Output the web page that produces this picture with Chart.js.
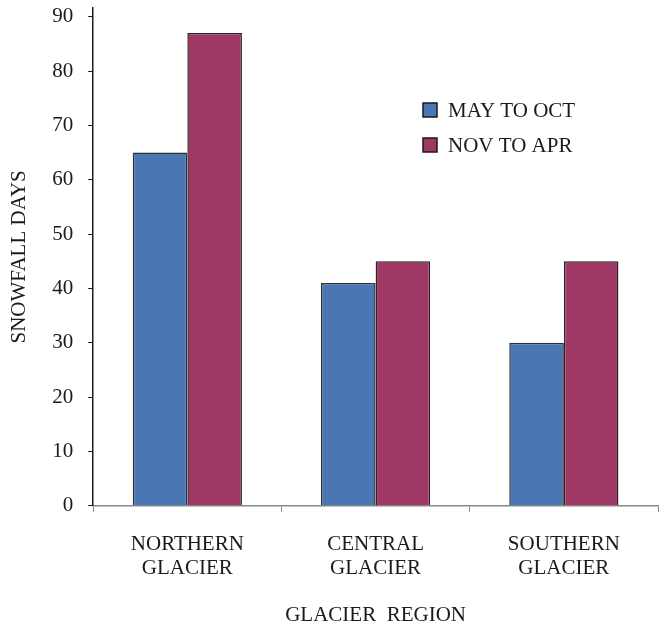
<!DOCTYPE html>
<html>
<head>
<meta charset="utf-8">
<script src="https://cdn.jsdelivr.net/npm/chart.js@4/dist/chart.umd.min.js"></script>
<style>
    body { margin: 0; background: #fff; }
    canvas { display: block; }
</style>
</head>
<body>
<canvas id="snowChart" width="664" height="628"></canvas>
<script>
// chart data
const regions = [['NORTHERN', 'GLACIER'], ['CENTRAL', 'GLACIER'], ['SOUTHERN', 'GLACIER']];
const seriesNames = ['MAY TO OCT', 'NOV TO APR'];
const mayToOct = [65, 41, 30];
const novToApr = [87, 45, 45];
const yTicks = [0, 10, 20, 30, 40, 50, 60, 70, 80, 90];

const FONT = '"Liberation Serif", "Times New Roman", serif';

// legend drawn inside the plot area
const insideLegend = {
    id: 'insideLegend',
    afterDraw(chart) {
        const ctx = chart.ctx;
        ctx.save();
        ctx.font = '21px ' + FONT;
        ctx.textBaseline = 'middle';
        chart.data.datasets.forEach((ds, i) => {
            const y = 110 + i * 35;
            ctx.fillStyle = ds.backgroundColor;
            ctx.fillRect(423, y - 7, 14, 14);
            ctx.strokeStyle = '#1a1a1a';
            ctx.lineWidth = 1.5;
            ctx.strokeRect(423, y - 7, 14, 14);
            ctx.fillStyle = '#1a1a1a';
            ctx.fillText(ds.label, 448, y + 1);
        });
        ctx.restore();
    }
};

let snowChart = null;

function renderSnowChart() {
    const ctx = document.getElementById('snowChart');
    if (!ctx) return;

    if (snowChart) {
        snowChart.destroy();
    }

    snowChart = new Chart(ctx, {
        type: 'bar',
        data: {
            labels: regions,
            datasets: [{
                label: seriesNames[0],
                data: mayToOct,
                backgroundColor: '#4a76b3',
                borderColor: '#2b2f36',
                borderWidth: 1.5
            }, {
                label: seriesNames[1],
                data: novToApr,
                backgroundColor: '#9f3864',
                borderColor: '#2e2228',
                borderWidth: 1.5
            }]
        },
        options: {
            responsive: false,
            animation: false,
            layout: {
                padding: { top: 8, right: 6, left: 7, bottom: 0 }
            },
            datasets: {
                bar: {
                    categoryPercentage: 0.58,
                    barPercentage: 1.0
                }
            },
            plugins: {
                legend: { display: false },
                tooltip: { enabled: false }
            },
            scales: {
                x: {
                    grid: {
                        offset: true,
                        drawOnChartArea: false,
                        drawTicks: true,
                        tickLength: 6,
                        color: '#888'
                    },
                    border: { color: '#888', width: 1.5 },
                    ticks: {
                        color: '#1a1a1a',
                        padding: 21,
                        maxRotation: 0,
                        font: { family: FONT, size: 21, lineHeight: 1.12 }
                    },
                    title: {
                        display: true,
                        text: 'GLACIER  REGION',
                        color: '#1a1a1a',
                        padding: { top: 2, bottom: 0 },
                        font: { family: FONT, size: 21 }
                    }
                },
                y: {
                    min: 0,
                    max: 91.6,
                    afterBuildTicks: axis => {
                        axis.ticks = yTicks.map(v => ({ value: v }));
                    },
                    // let the axis line reach the top padding
                    afterFit: axis => {
                        axis.paddingTop = 0;
                        axis.paddingBottom = 0;
                    },
                    grid: {
                        drawOnChartArea: false,
                        drawTicks: true,
                        tickLength: 5,
                        color: '#1a1a1a'
                    },
                    border: { color: '#1a1a1a', width: 1.5 },
                    ticks: {
                        color: '#1a1a1a',
                        padding: 15,
                        font: { family: FONT, size: 21 }
                    },
                    title: {
                        display: true,
                        text: 'SNOWFALL DAYS',
                        color: '#1a1a1a',
                        padding: { top: 0, bottom: 5 },
                        font: { family: FONT, size: 21 }
                    }
                }
            }
        },
        plugins: [insideLegend]
    });
}

renderSnowChart();
</script>
</body>
</html>
